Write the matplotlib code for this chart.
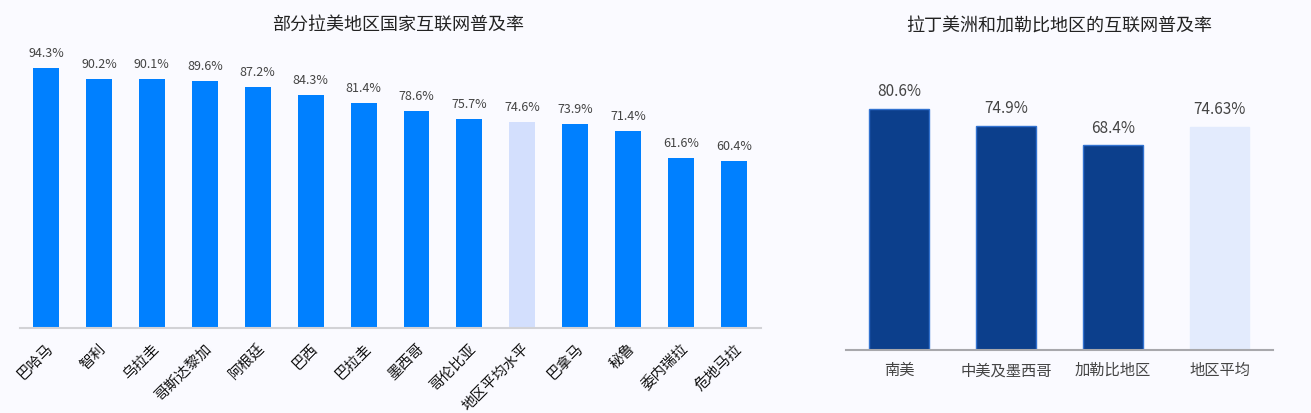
import matplotlib.pyplot as plt
import numpy as np

plt.rcParams['font.family'] = ['Noto Sans CJK SC', 'DejaVu Sans']

# 左图数据
paises = ['巴哈马', '智利', '乌拉圭', '哥斯达黎加', '阿根廷', '巴西', '巴拉圭',
          '墨西哥', '哥伦比亚', '地区平均水平', '巴拿马', '秘鲁', '委内瑞拉', '危地马拉']
taxa_paises = [94.3, 90.2, 90.1, 89.6, 87.2, 84.3, 81.4, 78.6, 75.7, 74.6, 73.9, 71.4, 61.6, 60.4]
rotulos_paises = ['94.3%', '90.2%', '90.1%', '89.6%', '87.2%', '84.3%', '81.4%',
                  '78.6%', '75.7%', '74.6%', '73.9%', '71.4%', '61.6%', '60.4%']

# 右图数据
regioes = ['南美', '中美及墨西哥', '加勒比地区', '地区平均']
taxa_regioes = [80.6, 74.9, 68.4, 74.63]
rotulos_regioes = ['80.6%', '74.9%', '68.4%', '74.63%']

fundo = '#FAFAFF'
cinza_texto = '#444444'

fig = plt.figure(figsize=(13.11, 4.14), dpi=100, facecolor=fundo)

# ---- esquerda
ax = fig.add_axes([0.0149, 0.2053, 0.5652, 0.6667], facecolor=fundo)
x = np.arange(len(paises))
cores = ['#D3DFFD' if p == '地区平均水平' else '#0080FF' for p in paises]
ax.bar(x, taxa_paises, width=0.49, color=cores)
for xi, v, r in zip(x, taxa_paises, rotulos_paises):
    ax.text(xi, v + 3.3, r, ha='center', va='bottom', fontsize=9, color=cinza_texto)
ax.set_xlim(-0.5, len(paises) - 0.5)
ax.set_ylim(0, 100)
ax.set_xticks(x)
ax.set_xticklabels(paises, rotation=45, ha='right', rotation_mode='anchor', fontsize=10.5, color='#111111')
ax.tick_params(axis='x', length=0, pad=9)
ax.set_yticks([])
for lado in ['top', 'right', 'left']:
    ax.spines[lado].set_visible(False)
ax.spines['bottom'].set_color('#D2D2D6')
ax.spines['bottom'].set_linewidth(1.5)
fig.text(0.3036, 0.94, '部分拉美地区国家互联网普及率', ha='center', va='center', fontsize=13, color='#222222')

# ---- direita
ax2 = fig.add_axes([0.6453, 0.1522, 0.3257, 0.7222], facecolor=fundo)
x2 = np.arange(len(regioes))
cores2 = ['#E3EBFD' if r == '地区平均' else '#0C3F8C' for r in regioes]
bordas2 = ['#E3EBFD' if r == '地区平均' else '#3272D0' for r in regioes]
ax2.bar(x2, taxa_regioes, width=0.56, color=cores2, edgecolor=bordas2, linewidth=1)
for xi, v, r in zip(x2, taxa_regioes, rotulos_regioes):
    ax2.text(xi, v + 3.3, r, ha='center', va='bottom', fontsize=11, color=cinza_texto)
ax2.set_xlim(-0.5, 3.5)
ax2.set_ylim(0, 100)
ax2.set_xticks(x2)
ax2.set_xticklabels(regioes, fontsize=11, color=cinza_texto)
ax2.tick_params(axis='x', length=0, pad=8)
ax2.set_yticks([])
for lado in ['top', 'right', 'left']:
    ax2.spines[lado].set_visible(False)
ax2.spines['bottom'].set_color('#A8A8AC')
ax2.spines['bottom'].set_linewidth(1.5)
fig.text(0.8078, 0.935, '拉丁美洲和加勒比地区的互联网普及率', ha='center', va='center', fontsize=13, color='#222222')

fig.savefig('out.png', dpi=100, facecolor=fundo)
